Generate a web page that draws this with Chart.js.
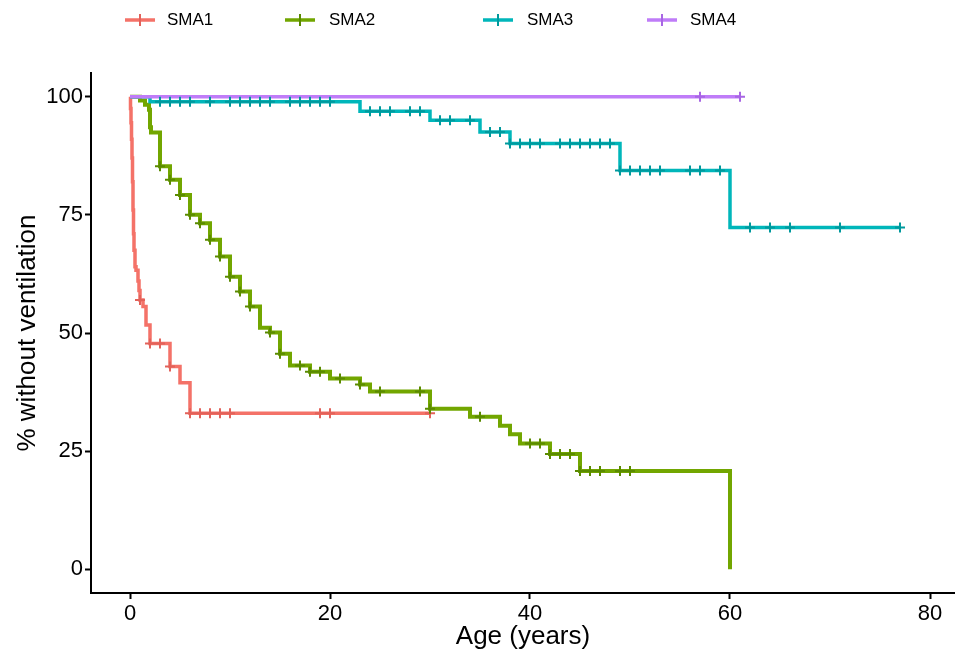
<!DOCTYPE html>
<html>
<head>
<meta charset="utf-8">
<script src="https://cdn.jsdelivr.net/npm/chart.js@4.4.1/dist/chart.umd.min.js"></script>
<style>
  html, body { margin: 0; padding: 0; background: #fff; }
  #wrap { position: relative; width: 955px; height: 655px; font-family: "Liberation Sans", Arial, sans-serif; }
  #km { position: absolute; left: 0; top: 0; }
  .sym { position: absolute; top: 13px; }
  .lbl { position: absolute; top: 10px; font-size: 17px; line-height: 20px; color: #000; }
</style>
</head>
<body>
<div id="wrap">
  <canvas id="km" width="955" height="655"></canvas>
  <div id="legend"></div>
</div>
<script>
// groups
const groups = ["SMA1", "SMA2", "SMA3", "SMA4"];

// SMA1: event times (years) and survival (%)
const sma1Time = [0, 0.05, 0.1, 0.15, 0.2, 0.25, 0.3, 0.35, 0.4, 0.5, 0.6, 0.8, 0.9, 1, 1.3, 1.6, 2, 4, 5, 6, 30];
const sma1Surv = [100, 97.5, 94.5, 91, 87, 82, 76, 71, 67.5, 64, 63.3, 61, 59, 57, 55.6, 51.7, 47.8, 42.9, 39.5, 33.0, 33.0];
const sma1Cens = [1, 2, 3, 4, 6, 7, 8, 9, 10, 19, 20, 30];

// SMA2
const sma2Time = [0, 1, 1.5, 1.9, 2, 2.1, 3, 4, 5, 6, 7, 8, 9, 10, 11, 12, 13, 14, 15, 16, 18, 20, 23, 24, 30, 34, 37, 38, 39, 42, 45, 60];
const sma2Surv = [100, 99.2, 98.3, 97.2, 93.5, 92.4, 85.3, 82.4, 79.2, 75.0, 73.2, 69.7, 66.2, 61.9, 58.8, 55.6, 51.1, 50.1, 45.6, 43.1, 41.8, 40.4, 39.1, 37.6, 34.0, 32.3, 30.4, 28.6, 26.6, 24.4, 20.8, 0];
const sma2Cens = [3, 4, 5, 6, 7, 8, 9, 10, 11, 12, 14, 15, 17, 18, 19, 21, 23, 25, 29, 30, 35, 40, 41, 42, 43, 44, 45, 46, 47, 49, 50];

// SMA3
const sma3Time = [0, 2, 23, 30, 35, 38, 49, 60, 77];
const sma3Surv = [100, 98.9, 96.9, 95.0, 92.5, 90.1, 84.4, 72.3, 72.3];
const sma3Cens = [3, 4, 5, 6, 8, 10, 11, 12, 13, 14, 16, 17, 18, 19, 20, 24, 25, 26, 28, 29, 31, 32, 34, 36, 37,
                  38, 39, 40, 41, 43, 44, 45, 46, 47, 48, 49, 50, 51, 52, 53, 56, 57, 59, 62, 64, 66, 71, 77];

// SMA4
const sma4Time = [0, 61];
const sma4Surv = [100, 100];
const sma4Cens = [57, 61];

const xTicks = [0, 20, 40, 60, 80];
const yTicks = [0, 25, 50, 75, 100];

const lineColors = ["#F47268", "#72A600", "#00B6BA", "#BF7CF8"];
const markColors = ["#E2625A", "#5A8A00", "#00999D", "#A866E4"];

const series = [
  { time: sma1Time, surv: sma1Surv, cens: sma1Cens },
  { time: sma2Time, surv: sma2Surv, cens: sma2Cens },
  { time: sma3Time, surv: sma3Surv, cens: sma3Cens },
  { time: sma4Time, surv: sma4Surv, cens: sma4Cens },
];

// survival level at time t (step function)
function survAt(times, surv, t) {
  let s = surv[0];
  for (let i = 0; i < times.length; i++) {
    if (times[i] <= t) s = surv[i];
  }
  return s;
}

const datasets = [];
series.forEach((s, k) => {
  datasets.push({
    type: 'line',
    label: groups[k],
    data: s.time.map((t, i) => ({ x: t, y: s.surv[i] })),
    stepped: 'before',
    borderColor: lineColors[k],
    borderWidth: k === 1 ? 4 : 3.5,
    pointRadius: 0,
    fill: false,
    order: 20 - k,
  });
  datasets.push({
    type: 'scatter',
    label: groups[k] + ' censored',
    data: s.cens.map(t => ({ x: t, y: survAt(s.time, s.surv, t) })),
    pointStyle: 'cross',
    pointRadius: 5,
    borderWidth: 2,
    borderColor: markColors[k],
    backgroundColor: markColors[k],
    order: 10 - k,
  });
});

// legend
const legend = document.getElementById('legend');
const symLeft = [125, 285, 483, 647];
const lblLeft = [167, 329, 527, 690];
groups.forEach((g, k) => {
  const sym = document.createElement('div');
  sym.className = 'sym';
  sym.style.left = symLeft[k] + 'px';
  sym.innerHTML = '<svg width="30" height="14"><line x1="0" y1="7" x2="30" y2="7" stroke="' + lineColors[k] +
    '" stroke-width="3.5"/><line x1="15" y1="1" x2="15" y2="13" stroke="' + markColors[k] + '" stroke-width="2"/></svg>';
  legend.appendChild(sym);
  const lbl = document.createElement('div');
  lbl.className = 'lbl';
  lbl.style.left = lblLeft[k] + 'px';
  lbl.textContent = g;
  legend.appendChild(lbl);
});

const axisFont = { family: '"Liberation Sans", Arial, sans-serif', size: 22 };
const titleFont = { family: '"Liberation Sans", Arial, sans-serif', size: 26, lineHeight: 1.2 };

new Chart(document.getElementById('km'), {
  type: 'line',
  data: { datasets },
  options: {
    responsive: false,
    animation: false,
    devicePixelRatio: 1,
    layout: { autoPadding: false, padding: { top: 73, left: 0, right: 0, bottom: 0 } },
    plugins: { legend: { display: false }, tooltip: { enabled: false } },
    scales: {
      x: {
        type: 'linear',
        min: -3.9,
        max: 82.5,
        afterBuildTicks: (scale) => { scale.ticks = xTicks.map(v => ({ value: v })); },
        afterFit: (scale) => { scale.height = 62; },
        grid: { display: true, drawOnChartArea: false, drawTicks: true, tickLength: 6, tickWidth: 2, tickColor: '#000' },
        border: { display: true, color: '#000', width: 2 },
        ticks: { color: '#000', font: axisFont, padding: 2, maxRotation: 0 },
        title: { display: true, text: 'Age (years)', color: '#000', font: titleFont, padding: { top: 0, bottom: 3 } },
      },
      y: {
        type: 'linear',
        min: -5,
        max: 105,
        afterBuildTicks: (scale) => { scale.ticks = yTicks.map(v => ({ value: v })); },
        afterFit: (scale) => { scale.width = 91; },
        grid: { display: true, drawOnChartArea: false, drawTicks: true, tickLength: 6, tickWidth: 2, tickColor: '#000' },
        border: { display: true, color: '#000', width: 2 },
        ticks: { color: '#000', font: axisFont, padding: 2 },
        title: { display: true, text: '% without ventilation', color: '#000', font: titleFont, padding: { top: 12, bottom: 0 } },
      },
    },
  },
});
</script>
</body>
</html>
